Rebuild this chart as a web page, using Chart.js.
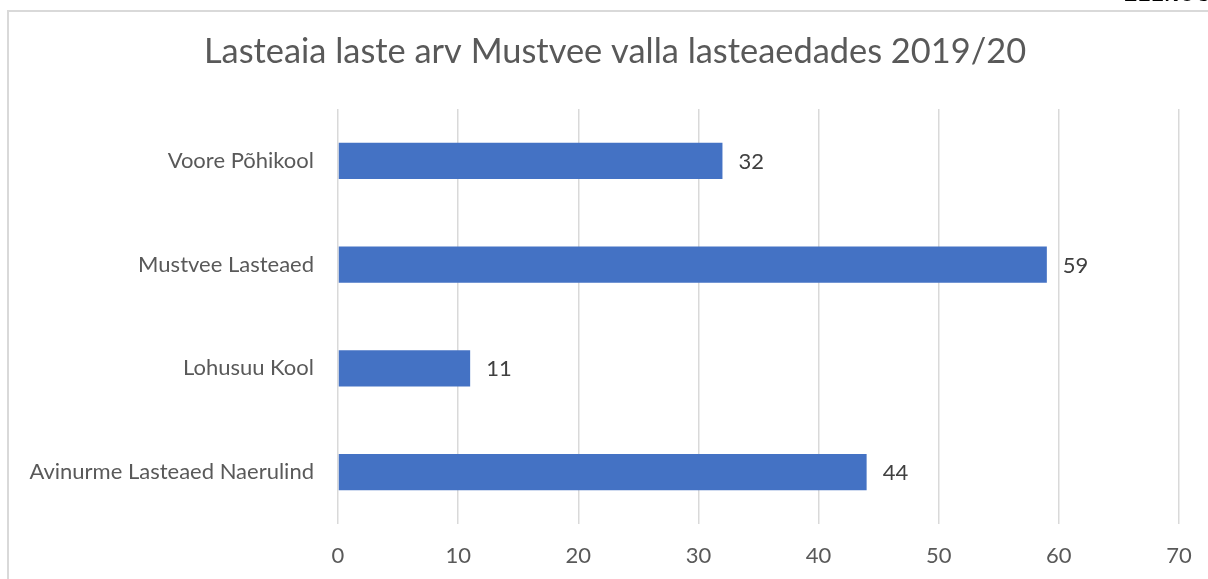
<!DOCTYPE html>
<html>
<head>
<meta charset="utf-8">
<script src="https://cdn.jsdelivr.net/npm/chart.js@4.4.0/dist/chart.umd.min.js"></script>
<style>
html,body{margin:0;padding:0;background:#fff;overflow:hidden;}
#wrap{position:relative;width:1208px;height:579px;}
#hdr{position:absolute;right:-4px;top:-17px;font:bold 20px "Liberation Sans",sans-serif;color:#000;letter-spacing:1px;}
</style>
</head>
<body>
<div id="wrap">
<canvas id="c" width="1208" height="579"></canvas>
<div id="hdr">ELLNUO</div>
</div>
<script>
const titleText = "Lasteaia laste arv Mustvee valla lasteaedades 2019/20";
const categories = ["Voore Põhikool", "Mustvee Lasteaed", "Lohusuu Kool", "Avinurme Lasteaed Naerulind"];
const values = [32, 59, 11, 44];
const xTicks = [0, 10, 20, 30, 40, 50, 60, 70];

const FONT = "Lato, Carlito, Calibri, sans-serif";

const frame = {
  id: 'frame',
  beforeDraw(chart) {
    const ctx = chart.ctx;
    ctx.save();
    ctx.fillStyle = '#fff';
    ctx.fillRect(0, 0, chart.width, chart.height);
    ctx.strokeStyle = '#d9d9d9';
    ctx.lineWidth = 2;
    ctx.strokeRect(8, 11, 1240, 620);
    ctx.fillStyle = '#595959';
    ctx.font = '34.4px ' + FONT;
    ctx.textAlign = 'center';
    ctx.textBaseline = 'middle';
    ctx.fillText(titleText, 615, 52);
    ctx.restore();
  }
};

const dataLabels = {
  id: 'dataLabels',
  afterDatasetsDraw(chart) {
    const ctx = chart.ctx;
    const meta = chart.getDatasetMeta(0);
    ctx.save();
    ctx.fillStyle = '#404040';
    ctx.font = '22px ' + FONT;
    ctx.textAlign = 'left';
    ctx.textBaseline = 'middle';
    meta.data.forEach((bar, i) => {
      ctx.fillText(String(values[i]), bar.x + 16, bar.y + 1);
    });
    ctx.restore();
  }
};

new Chart(document.getElementById('c'), {
  type: 'bar',
  data: {
    labels: categories,
    datasets: [{
      data: values,
      backgroundColor: '#4472C4',
      borderWidth: 0,
      barPercentage: 0.35,
      categoryPercentage: 1.0
    }]
  },
  options: {
    indexAxis: 'y',
    responsive: false,
    animation: false,
    layout: { padding: { top: 109, right: 29, left: 0, bottom: 0 } },
    plugins: { legend: { display: false }, title: { display: false }, tooltip: { enabled: false } },
    scales: {
      x: {
        min: 0, max: 70,
        afterBuildTicks(scale) { scale.ticks = xTicks.map(v => ({ value: v })); },
        grid: { color: '#d9d9d9', lineWidth: 1.5, drawTicks: false },
        border: { display: false },
        ticks: { color: '#595959', font: { family: FONT, size: 22 }, padding: 19 },
        afterFit(scale) { scale.height = 55; scale.paddingRight = 0; scale.paddingLeft = 0; }
      },
      y: {
        grid: { display: false, drawTicks: false },
        border: { display: false },
        ticks: { color: '#595959', font: { family: FONT, size: 22 }, padding: 24 },
        afterFit(scale) { scale.width = 338; scale.paddingTop = 0; scale.paddingBottom = 0; }
      }
    }
  },
  plugins: [frame, dataLabels]
});
</script>
</body>
</html>
